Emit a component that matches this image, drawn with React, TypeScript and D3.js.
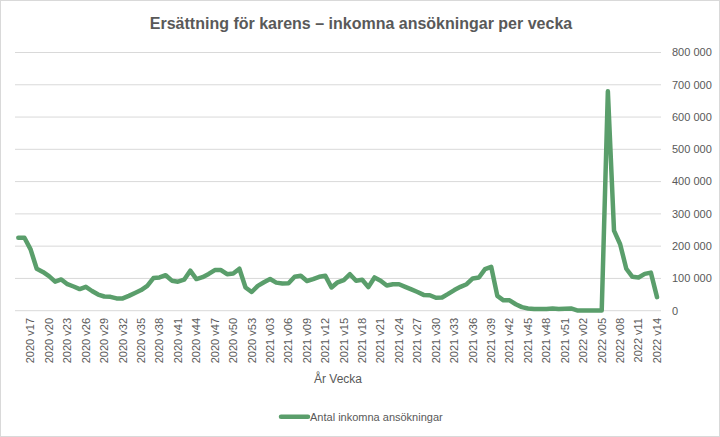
import React from 'react';
import * as d3 from 'd3';

const titleText = 'Ersättning för karens – inkomna ansökningar per vecka';
const xAxisTitle = 'År Vecka';
const seriesName = 'Antal inkomna ansökningar';

// week ranges per year: [year, firstWeek, lastWeek]
const weekRanges: [number, number, number][] = [
  [2020, 15, 53],
  [2021, 1, 52],
  [2022, 1, 14],
];
const weeks: string[] = weekRanges.flatMap(([yr, a, b]) =>
  d3.range(a, b + 1).map((w) => `${yr} v${String(w).padStart(2, '0')}`)
);

const values: number[] = [
  226000, 226000, 190000, 130000, 120000, 107000, 90000, 97000, 82000, 75000,
  67000, 74000, 61000, 50000, 44000, 43000, 38000, 38000, 46000, 55000,
  64000, 77000, 101000, 103000, 110000, 93000, 90000, 96000, 124000, 98000,
  104000, 114000, 126000, 126000, 113000, 115000, 130000, 72000, 58000, 77000,
  88000, 98000, 87000, 84000, 85000, 105000, 108000, 92000, 98000, 105000,
  108000, 72000, 88000, 95000, 113000, 93000, 96000, 73000, 103000, 93000,
  78000, 82000, 82000, 74000, 66000, 58000, 49000, 48000, 40000, 41000,
  52000, 64000, 74000, 82000, 100000, 103000, 129000, 136000, 46000, 32000,
  32000, 20000, 11000, 7000, 5000, 5000, 5000, 7000, 5000, 6000,
  7000, 1000, 1000, 1000, 1000, 1000, 680000, 248000, 206000, 130000,
  105000, 103000, 114000, 118000, 42000,
];

const yTicks: number[] = [0, 100000, 200000, 300000, 400000, 500000, 600000, 700000, 800000];

const W = 720;
const H = 437;
const FONT = '"Liberation Sans", Arial, sans-serif';
const TEXT = '#595959';
const GRID = '#d9d9d9';
const GREEN = '#5a9e6b';

export default function App() {
  const x = d3.scalePoint<string>().domain(weeks).range([18.3, 657]);
  const y = d3.scaleLinear().domain([0, 800000]).range([310.7, 52.5]);
  const line = d3
    .line<number>()
    .x((_, i) => x(weeks[i]) as number)
    .y((d) => y(d));
  const fmt = (v: number) => d3.format(',')(v).replace(/,/g, ' ');
  const plotLeft = 15;
  const plotRight = 661;

  return (
    <svg
      width={W}
      height={H}
      style={{ position: 'absolute', left: 0, top: 0, background: '#fff' }}
      fontFamily={FONT}
    >
      <rect x={0.5} y={0.5} width={W - 1} height={H - 1} fill="#fff" stroke={GRID} />
      <text x={361} y={28.5} textAnchor="middle" fontSize={16} fontWeight={700} fill={TEXT}>
        {titleText}
      </text>
      {yTicks.map((t) => (
        <g key={t}>
          <line x1={plotLeft} x2={plotRight} y1={y(t)} y2={y(t)} stroke={GRID} strokeWidth={1} />
          <text x={672} y={y(t)} dy="0.35em" fontSize={11} fill={TEXT}>
            {fmt(t)}
          </text>
        </g>
      ))}
      {weeks.map((w, i) =>
        i % 3 === 2 ? (
          <text
            key={w}
            transform={`translate(${x(w)},318) rotate(-90)`}
            textAnchor="end"
            dy="0.35em"
            fontSize={11}
            fill={TEXT}
          >
            {w}
          </text>
        ) : null
      )}
      <text x={338} y={383} textAnchor="middle" fontSize={12} fill={TEXT}>
        {xAxisTitle}
      </text>
      <path
        d={line(values) || ''}
        fill="none"
        stroke={GREEN}
        strokeWidth={4.5}
        strokeLinejoin="round"
        strokeLinecap="round"
      />
      <line x1={281} x2={308} y1={416.7} y2={416.7} stroke={GREEN} strokeWidth={4.5} strokeLinecap="round" />
      <text x={310} y={416.7} dy="0.35em" fontSize={11} fill={TEXT}>
        {seriesName}
      </text>
    </svg>
  );
}
